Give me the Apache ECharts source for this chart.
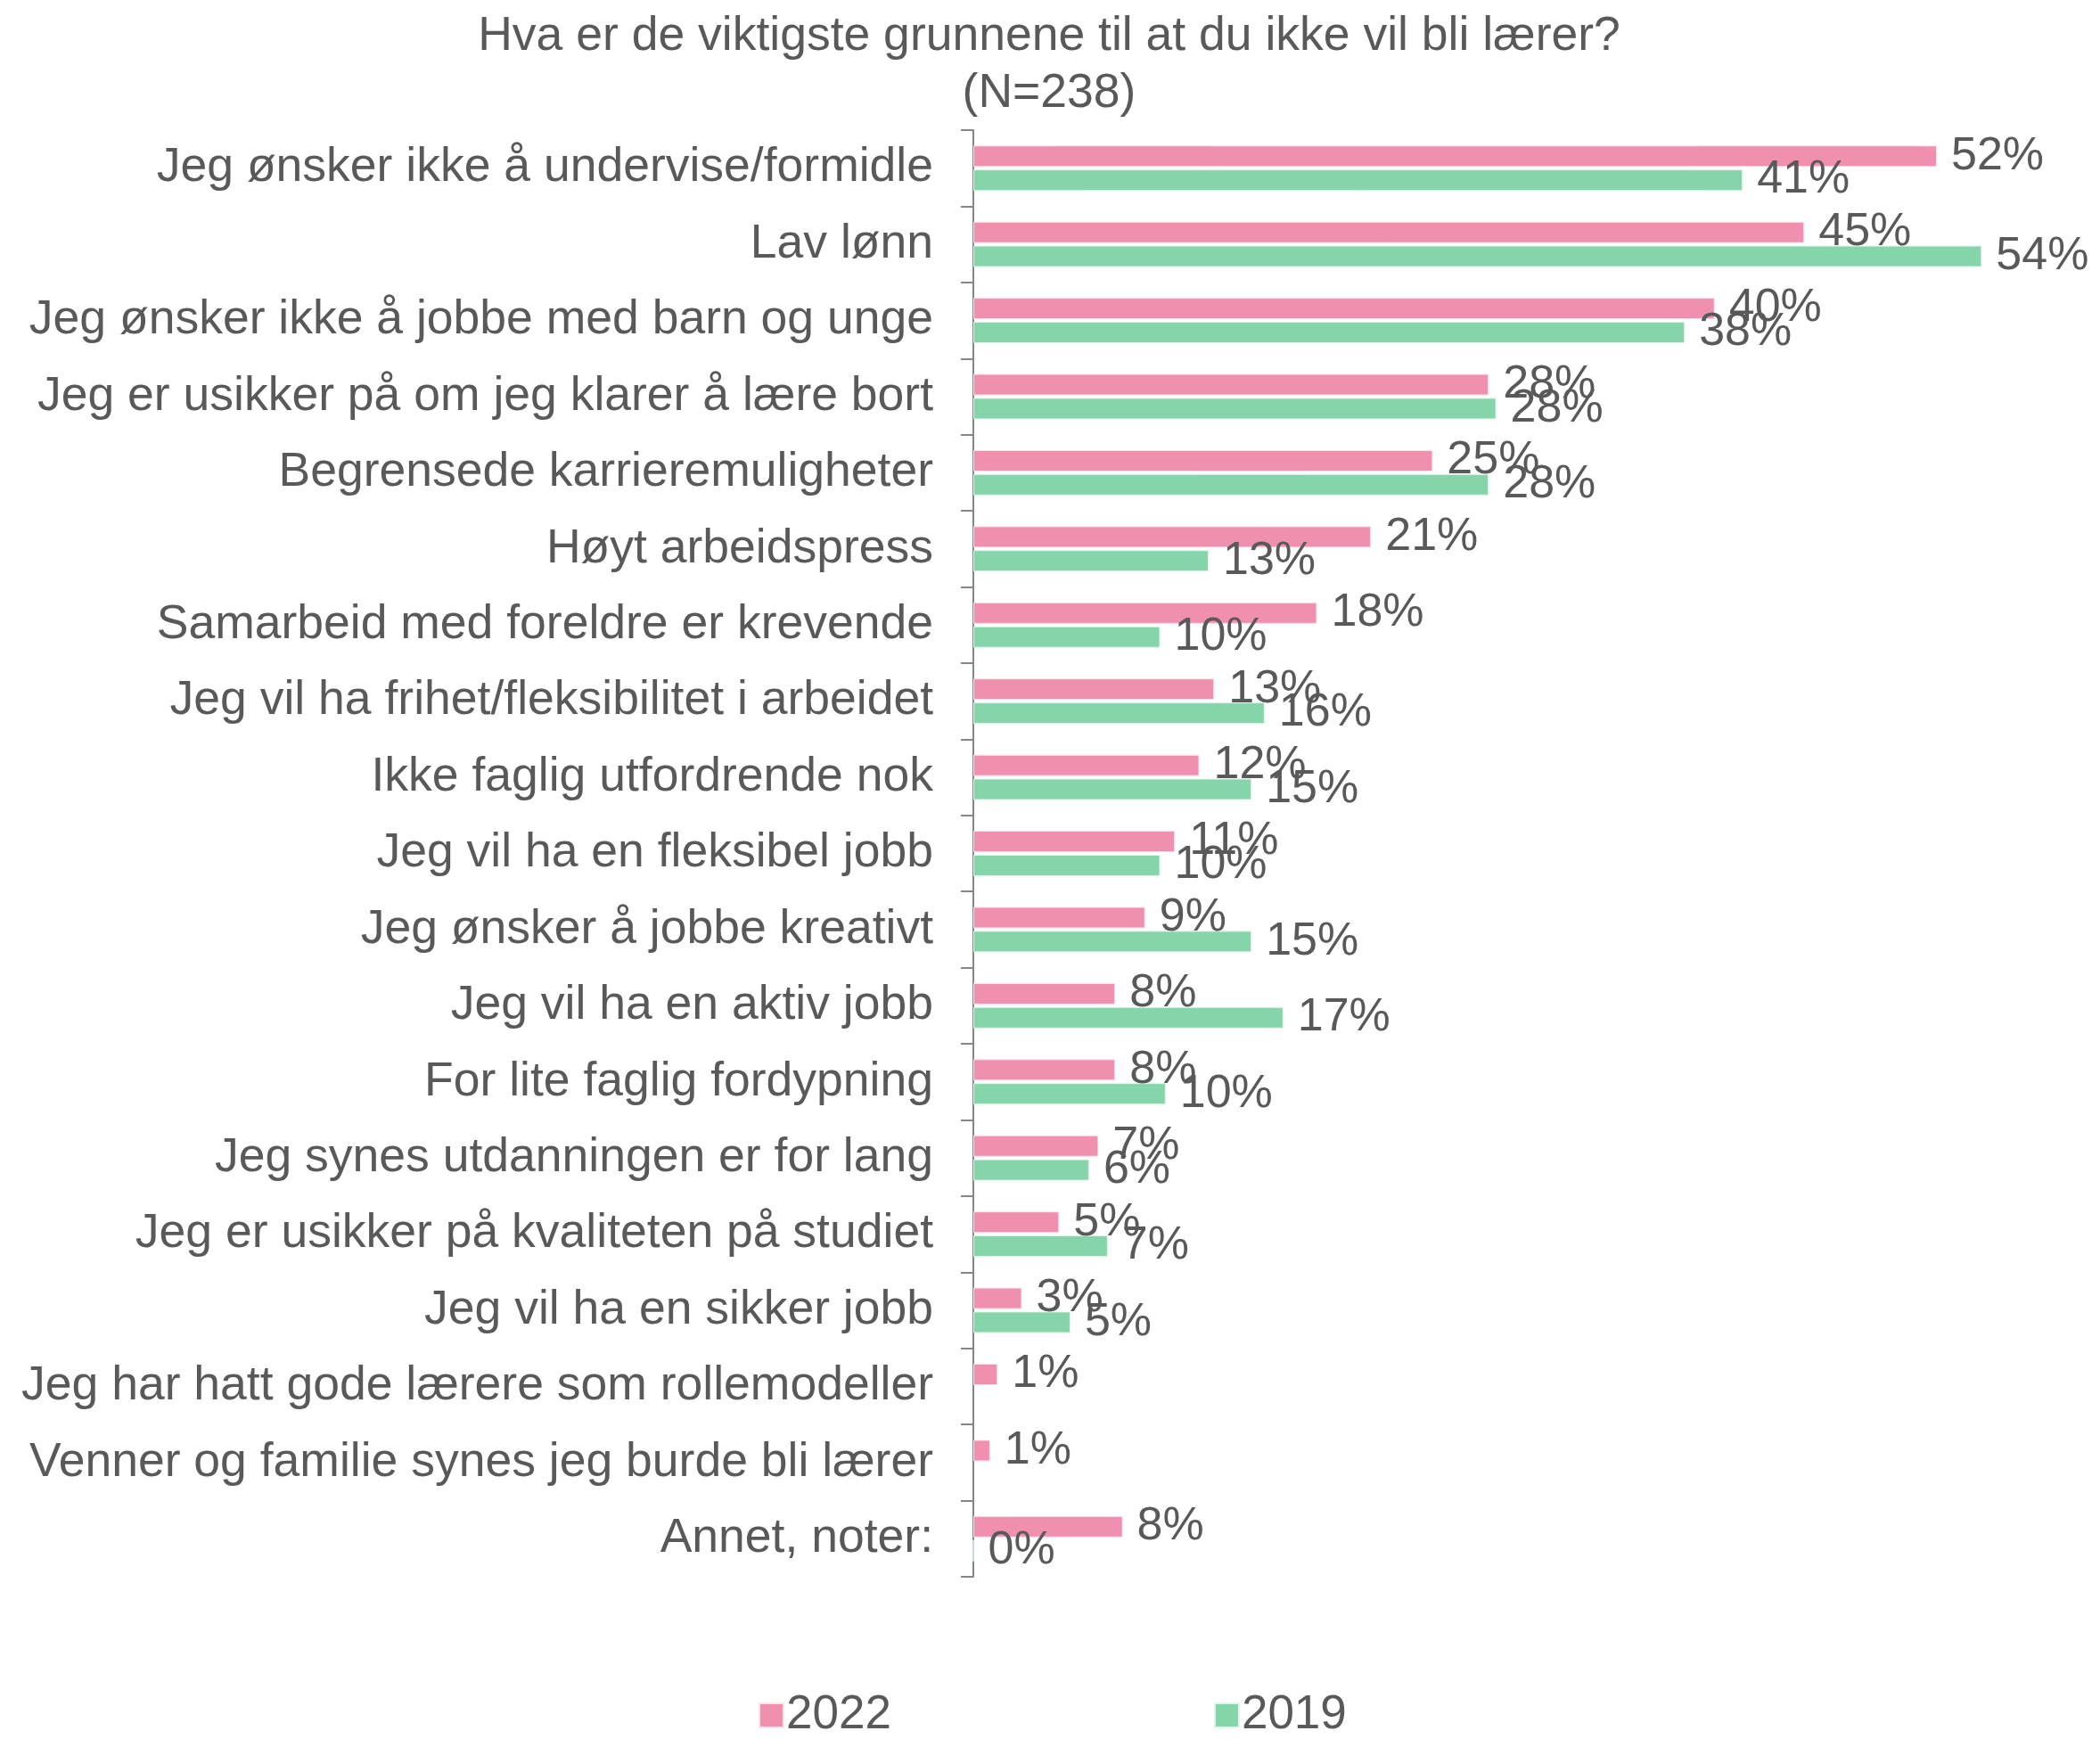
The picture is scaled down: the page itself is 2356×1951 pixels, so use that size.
<!DOCTYPE html>
<html>
<head>
<meta charset="utf-8">
<title>Hva er de viktigste grunnene</title>
<script src="https://cdn.jsdelivr.net/npm/echarts@6/dist/echarts.min.js"></script>
<style>
  html, body { margin: 0; padding: 0; background: #fff; }
  #chart { width: 2356px; height: 1951px; }
</style>
</head>
<body>
<div id="chart"></div>
<script>
const categories = [
  'Jeg ønsker ikke å undervise/formidle',
  'Lav lønn',
  'Jeg ønsker ikke å jobbe med barn og unge',
  'Jeg er usikker på om jeg klarer å lære bort',
  'Begrensede karrieremuligheter',
  'Høyt arbeidspress',
  'Samarbeid med foreldre er krevende',
  'Jeg vil ha frihet/fleksibilitet i arbeidet',
  'Ikke faglig utfordrende nok',
  'Jeg vil ha en fleksibel jobb',
  'Jeg ønsker å jobbe kreativt',
  'Jeg vil ha en aktiv jobb',
  'For lite faglig fordypning',
  'Jeg synes utdanningen er for lang',
  'Jeg er usikker på kvaliteten på studiet',
  'Jeg vil ha en sikker jobb',
  'Jeg har hatt gode lærere som rollemodeller',
  'Venner og familie synes jeg burde bli lærer',
  'Annet, noter:'
]

// percent (labels show rounded values)
const values2022 = [51.6, 44.5, 39.7, 27.6, 24.6, 21.3, 18.4, 12.9, 12.1, 10.8, 9.2, 7.6, 7.6, 6.7, 4.6, 2.6, 1.3, 0.9, 8.0]
const values2019 = [41.2, 54.0, 38.1, 28.0, 27.6, 12.6, 10.0, 15.6, 14.9, 10.0, 14.9, 16.6, 10.3, 6.2, 7.2, 5.2, null, null, 0]

const seriesNames = ['2022', '2019']
const colors = ['#F08FAE', '#86D4AA']
const textColor = '#595959'

const myChart = echarts.init(document.getElementById('chart'))

const pctLabel = {
  show: true,
  position: 'right',
  distance: 16,
  fontFamily: 'Liberation Sans',
  fontSize: 52,
  color: textColor,
  formatter: (p) => Math.round(p.value) + '%'
}

const option = {
  animation: false,
  backgroundColor: '#fff',
  title: {
    text: 'Hva er de viktigste grunnene til at du ikke vil bli lærer?\n(N=238)',
    left: 1172,
    top: 4,
    textAlign: 'center',
    textStyle: {
      fontFamily: 'Liberation Sans',
      fontSize: 53.5,
      fontWeight: 'normal',
      lineHeight: 64,
      color: textColor
    }
  },
  legend: {
    data: seriesNames,
    left: 846,
    top: 1893,
    icon: 'rect',
    itemWidth: 27,
    itemHeight: 27,
    itemGap: 362,
    textStyle: {
      fontFamily: 'Liberation Sans',
      fontSize: 53,
      color: textColor,
      padding: [0, 0, 0, -2]
    }
  },
  grid: {
    left: 1092,
    right: 7,
    top: 146,
    bottom: 182,
    containLabel: false
  },
  xAxis: {
    type: 'value',
    min: 0,
    max: 60,
    show: false
  },
  yAxis: {
    type: 'category',
    inverse: true,
    data: categories,
    axisLine: { show: true, lineStyle: { color: '#868686', width: 2 } },
    axisTick: { show: true, length: 14, lineStyle: { color: '#868686', width: 2 } },
    axisLabel: {
      margin: 45,
      fontFamily: 'Liberation Sans',
      fontSize: 53.5,
      color: textColor
    }
  },
  series: [
    {
      name: seriesNames[0],
      type: 'bar',
      data: values2022,
      barWidth: 24,
      barGap: '12%',
      itemStyle: { color: colors[0], borderColor: '#fce4ec', borderWidth: 1 },
      label: pctLabel
    },
    {
      name: seriesNames[1],
      type: 'bar',
      data: values2019,
      barWidth: 24,
      itemStyle: { color: colors[1], borderColor: '#e0f5ea', borderWidth: 1 },
      label: pctLabel
    }
  ]
}

myChart.setOption(option)
</script>
</body>
</html>
